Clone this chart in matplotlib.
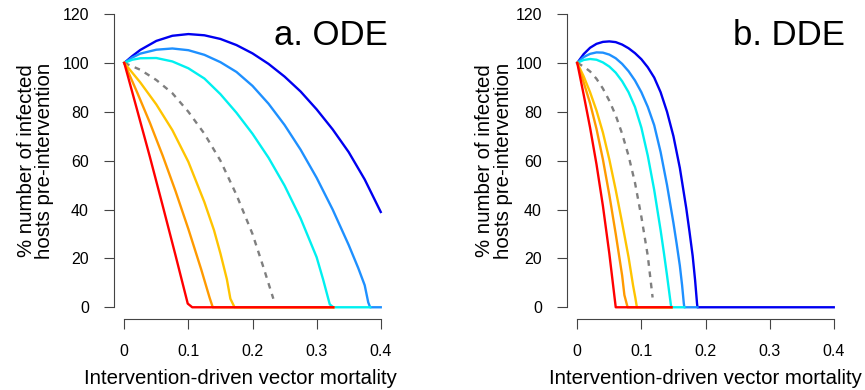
import matplotlib
matplotlib.use("Agg")
import matplotlib.pyplot as plt

plt.rcParams['font.family'] = ['Liberation Sans', 'DejaVu Sans']

# ---------------- Panel a: ODE ----------------
a_blue_x = [0, 0.0125, 0.025, 0.05, 0.075, 0.10, 0.125, 0.15, 0.175, 0.20, 0.225, 0.25, 0.275, 0.30, 0.325, 0.35, 0.375, 0.40]
a_blue_y = [100, 102.8, 105.3, 109.0, 111.1, 111.8, 111.3, 109.8, 107.3, 103.9, 99.6, 94.4, 88.3, 81.0, 72.8, 63.5, 52.3, 39.0]

a_dodger_x = [0, 0.0125, 0.025, 0.05, 0.075, 0.10, 0.125, 0.15, 0.175, 0.20, 0.225, 0.25, 0.275, 0.30, 0.325, 0.35, 0.365, 0.375, 0.3805, 0.3835, 0.40]
a_dodger_y = [100, 102.2, 103.8, 105.4, 105.9, 105.2, 103.3, 100.3, 96.3, 90.6, 83.3, 74.6, 64.5, 53.0, 40.0, 25.5, 16.0, 9.0, 2.0, 0, 0]

a_cyan_x = [0, 0.0125, 0.025, 0.05, 0.075, 0.10, 0.125, 0.15, 0.175, 0.20, 0.225, 0.25, 0.275, 0.30, 0.31, 0.3205, 0.326, 0.3835]
a_cyan_y = [100, 101.3, 101.9, 102.0, 100.6, 97.8, 93.6, 87.2, 79.6, 71.0, 61.2, 49.8, 36.4, 20.5, 11.5, 1.2, 0, 0]

a_gray_x = [0, 0.025, 0.05, 0.075, 0.10, 0.125, 0.15, 0.175, 0.20, 0.2175, 0.2325]
a_gray_y = [100, 97.2, 93.0, 87.6, 80.0, 71.0, 60.0, 46.0, 30.0, 16.0, 3.5]

a_gold_x = [0, 0.025, 0.05, 0.075, 0.10, 0.125, 0.14, 0.15, 0.16, 0.1655, 0.172, 0.326]
a_gold_y = [100, 92.0, 83.0, 72.5, 59.5, 43.0, 31.5, 22.0, 11.5, 3.5, 0, 0]

a_orange_x = [0, 0.02, 0.04, 0.06, 0.08, 0.10, 0.12, 0.133, 0.138, 0.326]
a_orange_y = [100, 88.0, 75.5, 62.0, 47.5, 32.0, 15.5, 4.0, 0, 0]

a_red_x = [0, 0.02, 0.04, 0.06, 0.08, 0.099, 0.106, 0.326]
a_red_y = [100, 80.8, 61.5, 41.5, 21.2, 1.5, 0, 0]

# ---------------- Panel b: DDE ----------------
b_blue_x = [0, 0.01, 0.02, 0.03, 0.04, 0.05, 0.06, 0.07, 0.08, 0.09, 0.10, 0.11, 0.12, 0.13, 0.14, 0.15, 0.16, 0.17, 0.175, 0.18, 0.1838, 0.1868, 0.1875, 0.40]
b_blue_y = [100, 103.6, 106.2, 107.8, 108.6, 108.8, 108.5, 107.5, 106.0, 104.0, 101.5, 98.2, 94.0, 88.0, 80.0, 70.0, 57.0, 40.5, 31.0, 21.0, 11.0, 1.5, 0, 0]

b_dodger_x = [0, 0.01, 0.02, 0.03, 0.04, 0.05, 0.06, 0.07, 0.08, 0.09, 0.10, 0.11, 0.12, 0.13, 0.14, 0.15, 0.155, 0.16, 0.1635, 0.1662, 0.167, 0.1875]
b_dodger_y = [100, 102.4, 103.7, 104.3, 104.2, 103.4, 101.9, 99.6, 96.6, 92.8, 88.0, 82.0, 74.5, 63.5, 50.0, 34.5, 26.0, 17.0, 9.0, 1.5, 0, 0]

b_cyan_x = [0, 0.01, 0.02, 0.03, 0.04, 0.05, 0.06, 0.07, 0.08, 0.09, 0.10, 0.11, 0.12, 0.13, 0.135, 0.14, 0.146, 0.147, 0.167]
b_cyan_y = [100, 101.2, 101.6, 101.3, 100.2, 98.5, 96.0, 92.5, 88.0, 82.0, 73.5, 62.0, 48.0, 31.5, 22.5, 13.0, 1.0, 0, 0]

b_gray_x = [0, 0.01, 0.02, 0.03, 0.04, 0.05, 0.06, 0.07, 0.08, 0.09, 0.10, 0.11, 0.1175]
b_gray_y = [100, 98.5, 96.5, 93.5, 89.5, 84.5, 78.5, 71.0, 62.0, 51.0, 37.0, 21.0, 4.0]

b_gold_x = [0, 0.01, 0.02, 0.03, 0.04, 0.05, 0.06, 0.07, 0.08, 0.087, 0.0905, 0.093, 0.147]
b_gold_y = [100, 94.5, 88.0, 80.5, 71.5, 60.5, 48.0, 34.5, 20.5, 9.0, 4.0, 0, 0]

b_orange_x = [0, 0.01, 0.02, 0.03, 0.04, 0.05, 0.06, 0.07, 0.0735, 0.0785, 0.147]
b_orange_y = [100, 92.0, 83.5, 73.0, 60.5, 46.0, 30.0, 13.0, 5.0, 0, 0]

b_red_x = [0, 0.01, 0.02, 0.03, 0.04, 0.05, 0.06, 0.147]
b_red_y = [100, 87.0, 73.5, 58.5, 41.5, 22.0, 0, 0]

x_ticks = [0, 0.1, 0.2, 0.3, 0.4]
x_ticklabels = ["0", "0.1", "0.2", "0.3", "0.4"]
y_ticks = [0, 20, 40, 60, 80, 100, 120]
y_ticklabels = ["0", "20", "40", "60", "80", "100", "120"]
titles = ["a. ODE", "b. DDE"]
xlabel = "Intervention-driven vector mortality"
ylabel = "% number of infected\nhosts pre-intervention"

colors = {
    'blue': '#0000F0',
    'dodger': '#1E90FF',
    'cyan': '#00F0F0',
    'gray': '#7F7F7F',
    'gold': '#FFC400',
    'orange': '#FF9A00',
    'red': '#FF0000',
}

panels = [
    [('blue', a_blue_x, a_blue_y), ('dodger', a_dodger_x, a_dodger_y), ('cyan', a_cyan_x, a_cyan_y),
     ('gray', a_gray_x, a_gray_y), ('gold', a_gold_x, a_gold_y), ('orange', a_orange_x, a_orange_y),
     ('red', a_red_x, a_red_y)],
    [('blue', b_blue_x, b_blue_y), ('dodger', b_dodger_x, b_dodger_y), ('cyan', b_cyan_x, b_cyan_y),
     ('gray', b_gray_x, b_gray_y), ('gold', b_gold_x, b_gold_y), ('orange', b_orange_x, b_orange_y),
     ('red', b_red_x, b_red_y)],
]

W, H = 865, 390
fig = plt.figure(figsize=(W / 100, H / 100), dpi=100)

lefts = [114, 567]
title_x = [0.411, 0.417]
xlabel_cx = [0.455, 0.5]
ylabel_pad = [6, 2]
ax_w = 277
top_px, bottom_px = 2.3, 319

for i, (left, series) in enumerate(zip(lefts, panels)):
    ax = fig.add_axes([left / W, (H - bottom_px) / H, ax_w / W, (bottom_px - top_px) / H])
    for name, xs, ys in series:
        if name == 'gray':
            ax.plot(xs, ys, color=colors[name], lw=1.7, linestyle=(0, (2.4, 2.4)), dash_capstyle='butt')
        else:
            ax.plot(xs, ys, color=colors[name], lw=1.7, solid_joinstyle='round')
    ax.set_xlim(-0.016, 0.416)
    ax.set_ylim(-4.8, 124.8)
    for s in ['top', 'right']:
        ax.spines[s].set_visible(False)
    ax.spines['left'].set_bounds(0, 120)
    ax.spines['bottom'].set_bounds(0, 0.4)
    for s in ['left', 'bottom']:
        ax.spines[s].set_color('#444444')
        ax.spines[s].set_linewidth(0.8)
    ax.set_xticks(x_ticks)
    ax.set_xticklabels(x_ticklabels)
    ax.set_yticks(y_ticks)
    ax.set_yticklabels(y_ticklabels)
    ax.tick_params(axis='both', direction='out', length=7, width=0.8, color='#444444',
                   labelsize=11.5)
    ax.tick_params(axis='y', pad=11)
    ax.tick_params(axis='x', pad=11)
    ax.set_xlabel(xlabel, fontsize=14.7, labelpad=7)
    ax.xaxis.label.set_x(xlabel_cx[i])
    ax.set_ylabel(ylabel, fontsize=14.7, labelpad=ylabel_pad[i], linespacing=0.95)
    ax.text(title_x[i], 107.5, titles[i], fontsize=25, ha='right', va='baseline',
            transform=ax.transData)

fig.savefig("out.png", dpi=100)
